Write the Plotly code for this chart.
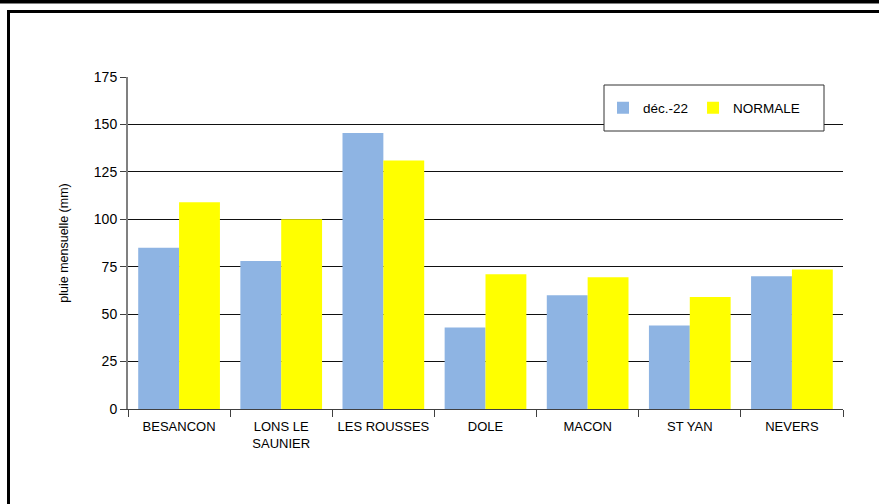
import plotly.graph_objects as go

categories = ["BESANCON", "LONS LE<br>SAUNIER", "LES ROUSSES", "DOLE", "MACON", "ST YAN", "NEVERS"]
dec22 = [85, 78, 145.5, 43, 60, 44, 70]
normale = [109, 100, 131, 71, 69.5, 59, 73.5]
y_ticks = [0, 25, 50, 75, 100, 125, 150, 175]

W, H = 879, 504
L, R, T, B = 128, 36, 77, 95
pw, ph = W - L - R, H - T - B

def px(x):
    return (x - L) / pw

def py(y):
    return (H - B - y) / ph

fig = go.Figure()
fig.add_trace(go.Bar(x=categories, y=dec22, name="déc.-22", marker_color="#8EB4E3", marker_line_width=0))
fig.add_trace(go.Bar(x=categories, y=normale, name="NORMALE", marker_color="#FFFF00", marker_line_width=0))

font = "Liberation Sans, Arial, sans-serif"
fig.update_layout(
    width=W, height=H,
    margin=dict(l=L, r=R, t=T, b=B),
    paper_bgcolor="white", plot_bgcolor="white",
    barmode="group", bargap=0.2, bargroupgap=0,
    font=dict(family=font, size=13, color="black"),
    showlegend=True,
    legend=dict(orientation="h", x=px(603), y=py(108), xanchor="left", yanchor="middle",
                bgcolor="rgba(0,0,0,0)", borderwidth=0, font=dict(size=13.5)),
    xaxis=dict(showline=True, linecolor="#404040", linewidth=1, ticks="outside", ticklen=7,
               tickcolor="#404040", tickson="boundaries", showgrid=False,
               tickfont=dict(size=13), ticklabelstandoff=5),
    yaxis=dict(range=[0, 175], tickvals=y_ticks, showline=True, linecolor="#808080", linewidth=2,
               ticks="outside", ticklen=6, tickcolor="#404040", showgrid=True, gridcolor="#111111",
               gridwidth=1, zeroline=False, tickfont=dict(size=14),
               title=dict(text="pluie mensuelle (mm)", font=dict(size=12.5), standoff=22)),
    shapes=[
        dict(type="rect", xref="paper", yref="paper", x0=px(0), x1=px(W), y0=py(0), y1=py(3.5),
             fillcolor="black", line_width=0, layer="above"),
        dict(type="line", xref="paper", yref="paper", x0=px(7), x1=px(W), y0=py(11.5), y1=py(11.5),
             line=dict(color="black", width=3)),
        dict(type="line", xref="paper", yref="paper", x0=px(8.5), x1=px(8.5), y0=py(10), y1=py(H),
             line=dict(color="black", width=3)),
        dict(type="rect", xref="paper", yref="paper", x0=px(604), x1=px(824), y0=py(85), y1=py(131),
             fillcolor="white", line=dict(color="#333333", width=1), layer="above"),
    ],
)
fig.write_html("out.html", config={"displayModeBar": False},
               post_script="document.body.style.margin='0';document.body.style.padding='0';")
